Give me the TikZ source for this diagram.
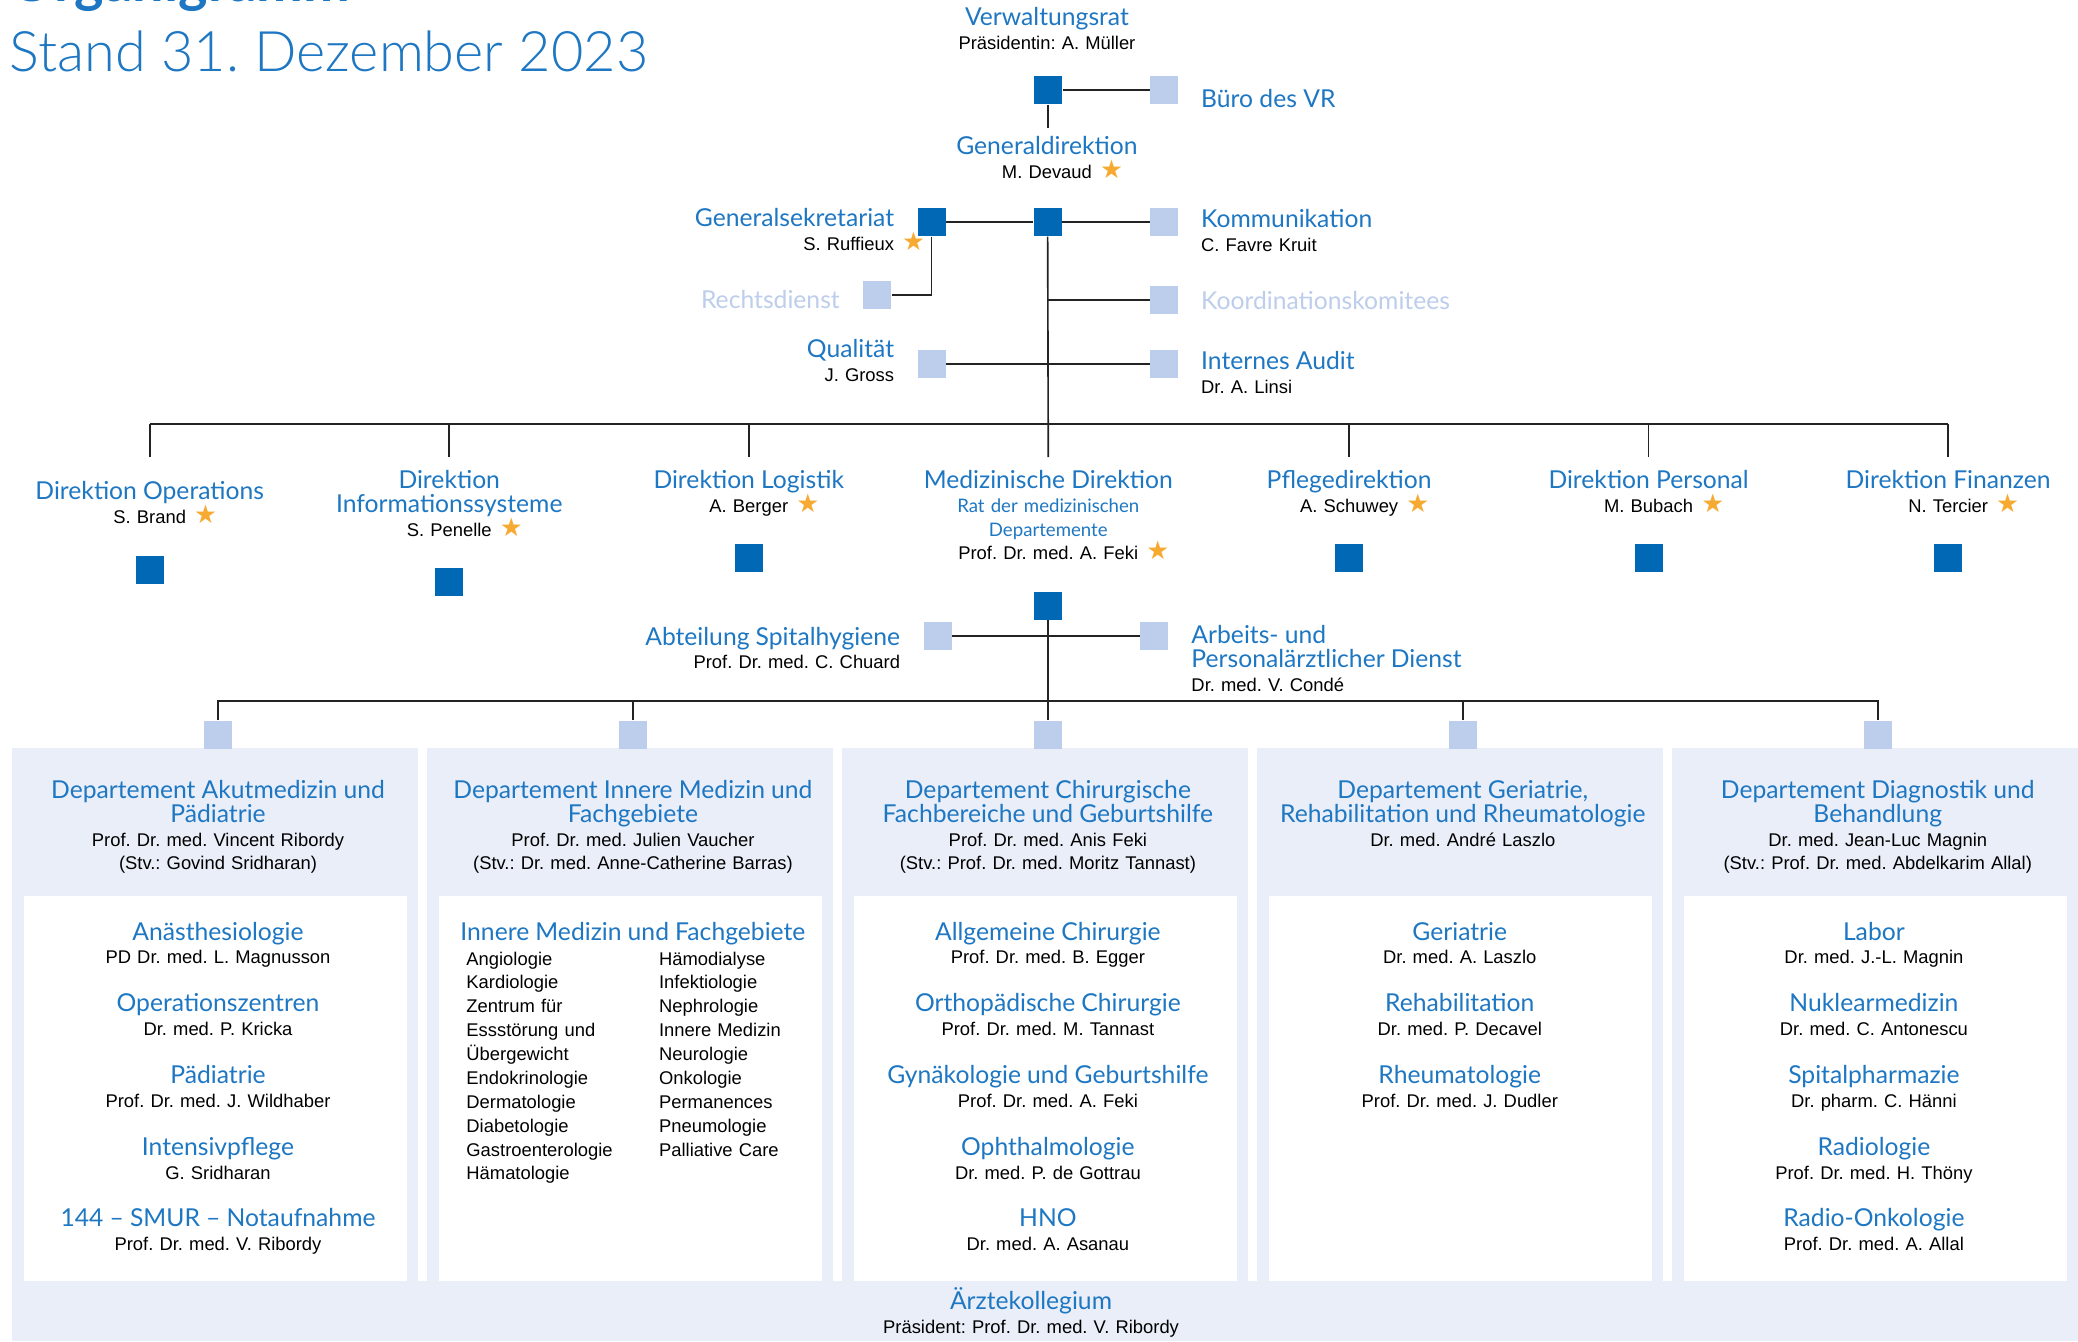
\documentclass[tikz,border=0pt]{standalone}
\usepackage{fontspec}
\setmainfont{Liberation Sans}
\newfontfamily\bluefont{Lato}
\newfontfamily\lightfont{Lato}[UprightFont=* Light]
\newfontfamily\titlefont{Lato}
\newfontfamily\starfont{DejaVu Sans}
\definecolor{orgDark}{RGB}{0,104,180}
\definecolor{orgBlue}{RGB}{30,119,194}
\definecolor{orgLight}{RGB}{189,205,236}
\definecolor{orgPale}{RGB}{233,238,248}
\definecolor{orgStarC}{RGB}{247,170,50}
\definecolor{orgLine}{RGB}{35,35,35}
\newcommand{\orgHead}[1]{{\bluefont\fontsize{10.6pt}{10.25pt}\selectfont\textcolor{orgBlue}{#1}}}
\newcommand{\orgFaint}[1]{{\bluefont\fontsize{10.6pt}{10.25pt}\selectfont\textcolor{orgLight}{#1}}}
\newcommand{\orgSmall}[1]{{\bluefont\fontsize{8pt}{10.25pt}\selectfont\textcolor{orgBlue}{#1}}}
\newcommand{\orgStar}{\rlap{\hspace{3.5pt}\starfont\fontsize{11pt}{10.25pt}\selectfont\textcolor{orgStarC}{★}}}
\setlength{\lineskiplimit}{-20pt}
\frenchspacing

\begin{document}
\begin{tikzpicture}[x=0.02cm, y=-0.02cm,
    every node/.style={inner sep=0pt, font=\fontsize{7.9pt}{10.25pt}\selectfont},
    sqDark/.style={fill=orgDark, minimum size=0.42cm},
    sqLight/.style={fill=orgLight, minimum size=0.42cm},
    link/.style={draw=orgLine, line width=0.7pt},
    midText/.style={anchor=base, align=center, text width=8cm},
    leftText/.style={anchor=base west, align=left, text width=7cm},
    rightText/.style={anchor=base east, align=right, text width=7cm}]
    \useasboundingbox[fill=white] (0,0) rectangle (1568,1012);

    % Departement columns (background)
    \fill[orgPale] (8.9,564.7) rectangle (315.6,1012);
    \fill[orgPale] (322,564.7) rectangle (628.7,1012);
    \fill[orgPale] (635.1,564.7) rectangle (941.8,1012);
    \fill[orgPale] (948.2,564.7) rectangle (1254.9,1012);
    \fill[orgPale] (1261.3,564.7) rectangle (1568,1012);
    \fill[orgPale] (8.9,966.4) rectangle (1568,1012);
    \fill[white] (18.2,676) rectangle (307.2,966.4);
    \fill[white] (331.3,676) rectangle (620.3,966.4);
    \fill[white] (644.4,676) rectangle (933.4,966.4);
    \fill[white] (957.5,676) rectangle (1246.5,966.4);
    \fill[white] (1270.6,676) rectangle (1559.6,966.4);

    % Title
    \node[anchor=base west, font=\titlefont\bfseries\fontsize{24pt}{28pt}\selectfont, text=orgBlue] (orgTitle) at (7,1.5) {Organigramm};
    \node[anchor=base west, font=\lightfont\fontsize{24pt}{28pt}\selectfont, text=orgBlue] (orgDate) at (7,54) {Stand 31. Dezember 2023};

    % Verwaltungsrat
    \node[midText] (vrText) at (790,19.4) {\orgHead{Verwaltungsrat}\\Präsidentin: A. Müller};
    \node[sqDark] (vr) at (791,68) {};
    \node[sqLight] (buero) at (878.5,68) {};
    \node[anchor=base west] (bueroText) at (906,81) {\orgHead{Büro des VR}};
    \coordinate (gdTop) at (791,96.4);
    \draw[link] (vr) -- (buero);
    \draw[link] (vr) -- (gdTop);

    % Generaldirektion and staff
    \node[midText] (gdText) at (790,116.5) {\orgHead{Generaldirektion}\\M. Devaud\orgStar};
    \node[sqDark] (gdSq) at (790.5,167.6) {};
    \node[sqDark] (gsSq) at (703,167.6) {};
    \node[sqLight] (kommSq) at (878.5,167.6) {};
    \node[rightText] (gsText) at (675,171) {\orgHead{Generalsekretariat}\\S. Ruffieux\orgStar};
    \node[leftText] (kommText) at (906,171.8) {\orgHead{Kommunikation}\\C. Favre Kruit};
    \draw[link] (gsSq) -- (gdSq);
    \draw[link] (gdSq) -- (kommSq);

    \node[sqLight] (rechtSq) at (662,222.6) {};
    \node[anchor=base east] (rechtText) at (634,233) {\orgFaint{Rechtsdienst}};
    \draw[link] (gsSq) |- (rechtSq);

    \node[sqLight] (koordSq) at (878.5,226.5) {};
    \node[anchor=base west] (koordText) at (906,233.5) {\orgFaint{Koordinationskomitees}};
    \draw[link] (gdSq |- koordSq) -- (koordSq);

    \node[sqLight] (qualSq) at (703,274.6) {};
    \node[sqLight] (auditSq) at (878.5,274.6) {};
    \node[rightText] (qualText) at (675,270) {\orgHead{Qualität}\\J. Gross};
    \node[leftText] (auditText) at (906,279) {\orgHead{Internes Audit}\\Dr. A. Linsi};
    \draw[link] (qualSq) -- (auditSq);

    % Direktionen
    \coordinate (dirBar) at (791,320);
    \coordinate (opsTop) at (113,345);
    \coordinate (infoTop) at (339,345);
    \coordinate (logTop) at (565,345);
    \coordinate (medTop) at (791,345);
    \coordinate (pflTop) at (1018,345);
    \coordinate (persTop) at (1244,345);
    \coordinate (finTop) at (1470,345);
    \draw[link] (gdSq) -- (medTop);
    \draw[link, line width=1pt] (opsTop |- dirBar) -- (finTop |- dirBar);
    \draw[link] (opsTop) -- (opsTop |- dirBar);
    \draw[link] (infoTop) -- (infoTop |- dirBar);
    \draw[link] (logTop) -- (logTop |- dirBar);
    \draw[link] (pflTop) -- (pflTop |- dirBar);
    \draw[link] (persTop) -- (persTop |- dirBar);
    \draw[link] (finTop) -- (finTop |- dirBar);

    \node[midText] (opsText) at (113,377) {\orgHead{Direktion Operations}\\S. Brand\orgStar};
    \node[sqDark] (opsSq) at (113,430) {};
    \node[midText] (infoText) at (339,368.5) {\orgHead{Direktion}\\\orgHead{Informationssysteme}\\S. Penelle\orgStar};
    \node[sqDark] (infoSq) at (339,439) {};
    \node[midText] (logText) at (565,368.5) {\orgHead{Direktion Logistik}\\A. Berger\orgStar};
    \node[sqDark] (logSq) at (565,421) {};
    \node[midText] (medText) at (791,368.5) {\orgHead{Medizinische Direktion}\\\orgSmall{Rat der medizinischen}\\\orgSmall{Departemente}\\Prof. Dr. med. A. Feki\orgStar};
    \node[sqDark] (medSq) at (791,457) {};
    \node[midText] (pflText) at (1018,368.5) {\orgHead{Pflegedirektion}\\A. Schuwey\orgStar};
    \node[sqDark] (pflSq) at (1018,421) {};
    \node[midText] (persText) at (1244,368.5) {\orgHead{Direktion Personal}\\M. Bubach\orgStar};
    \node[sqDark] (persSq) at (1244,421) {};
    \node[midText] (finText) at (1470,368.5) {\orgHead{Direktion Finanzen}\\N. Tercier\orgStar};
    \node[sqDark] (finSq) at (1470,421) {};

    % Medizinische Direktion: Stabsstellen
    \node[sqLight] (hygSq) at (707.6,479.8) {};
    \node[sqLight] (arbSq) at (870.8,479.8) {};
    \draw[link] (hygSq) -- (arbSq);
    \node[rightText] (hygText) at (679.5,486.7) {\orgHead{Abteilung Spitalhygiene}\\Prof. Dr. med. C. Chuard};
    \node[leftText] (arbText) at (898.7,485.4) {\orgHead{Arbeits- und}\\\orgHead{Personalärztlicher Dienst}\\Dr. med. V. Condé};

    % Departemente
    \node[sqLight] (deptA) at (164.5,554.5) {};
    \node[sqLight] (deptB) at (477.6,554.5) {};
    \node[sqLight] (deptC) at (791,554.5) {};
    \node[sqLight] (deptD) at (1103.8,554.5) {};
    \node[sqLight] (deptE) at (1416.9,554.5) {};
    \coordinate (deptBar) at (791,529);
    \draw[link] (medSq) -- (deptC);
    \draw[link] (deptA) |- (deptBar) -| (deptE);
    \draw[link] (deptB) -- (deptB |- deptBar);
    \draw[link] (deptD) -- (deptD |- deptBar);

    \node[midText] (deptAText) at (164.5,602.4) {\orgHead{Departement Akutmedizin und}\\\orgHead{Pädiatrie}\\Prof. Dr. med. Vincent Ribordy\\(Stv.: Govind Sridharan)};
    \node[midText] (deptBText) at (477.6,602.4) {\orgHead{Departement Innere Medizin und}\\\orgHead{Fachgebiete}\\Prof. Dr. med. Julien Vaucher\\(Stv.: Dr. med. Anne-Catherine Barras)};
    \node[midText] (deptCText) at (790.7,602.4) {\orgHead{Departement Chirurgische}\\\orgHead{Fachbereiche und Geburtshilfe}\\Prof. Dr. med. Anis Feki\\(Stv.: Prof. Dr. med. Moritz Tannast)};
    \node[midText] (deptDText) at (1103.8,602.4) {\orgHead{Departement Geriatrie,}\\\orgHead{Rehabilitation und Rheumatologie}\\Dr. med. André Laszlo};
    \node[midText] (deptEText) at (1416.9,602.4) {\orgHead{Departement Diagnostik und}\\\orgHead{Behandlung}\\Dr. med. Jean-Luc Magnin\\(Stv.: Prof. Dr. med. Abdelkarim Allal)};

    % Kliniken
    \node[midText] (deptAList) at (164.5,709.3) {\orgHead{Anästhesiologie}\\PD Dr. med. L. Magnusson\\[10.3pt]
        \orgHead{Operationszentren}\\Dr. med. P. Kricka\\[10.3pt]
        \orgHead{Pädiatrie}\\Prof. Dr. med. J. Wildhaber\\[10.3pt]
        \orgHead{Intensivpflege}\\G. Sridharan\\[10.3pt]
        \orgHead{144 – SMUR – Notaufnahme}\\Prof. Dr. med. V. Ribordy};
    \node[midText] (deptBHead) at (477.6,709.3) {\orgHead{Innere Medizin und Fachgebiete}};
    \node[leftText] (deptBLeft) at (351.6,728.2) {Angiologie\\Kardiologie\\Zentrum für\\Essstörung und\\Übergewicht\\Endokrinologie\\Dermatologie\\Diabetologie\\Gastroenterologie\\Hämatologie};
    \node[leftText] (deptBRight) at (497,728.2) {Hämodialyse\\Infektiologie\\Nephrologie\\Innere Medizin\\Neurologie\\Onkologie\\Permanences\\Pneumologie\\Palliative Care};
    \node[midText] (deptCList) at (790.7,709.3) {\orgHead{Allgemeine Chirurgie}\\Prof. Dr. med. B. Egger\\[10.3pt]
        \orgHead{Orthopädische Chirurgie}\\Prof. Dr. med. M. Tannast\\[10.3pt]
        \orgHead{Gynäkologie und Geburtshilfe}\\Prof. Dr. med. A. Feki\\[10.3pt]
        \orgHead{Ophthalmologie}\\Dr. med. P. de Gottrau\\[10.3pt]
        \orgHead{HNO}\\Dr. med. A. Asanau};
    \node[midText] (deptDList) at (1101.5,709.3) {\orgHead{Geriatrie}\\Dr. med. A. Laszlo\\[10.3pt]
        \orgHead{Rehabilitation}\\Dr. med. P. Decavel\\[10.3pt]
        \orgHead{Rheumatologie}\\Prof. Dr. med. J. Dudler};
    \node[midText] (deptEList) at (1414,709.3) {\orgHead{Labor}\\Dr. med. J.-L. Magnin\\[10.3pt]
        \orgHead{Nuklearmedizin}\\Dr. med. C. Antonescu\\[10.3pt]
        \orgHead{Spitalpharmazie}\\Dr. pharm. C. Hänni\\[10.3pt]
        \orgHead{Radiologie}\\Prof. Dr. med. H. Thöny\\[10.3pt]
        \orgHead{Radio-Onkologie}\\Prof. Dr. med. A. Allal};

    % Aerztekollegium
    \node[midText] (aerzteText) at (778,988) {\orgHead{Ärztekollegium}\\Präsident: Prof. Dr. med. V. Ribordy};
\end{tikzpicture}
\end{document}
